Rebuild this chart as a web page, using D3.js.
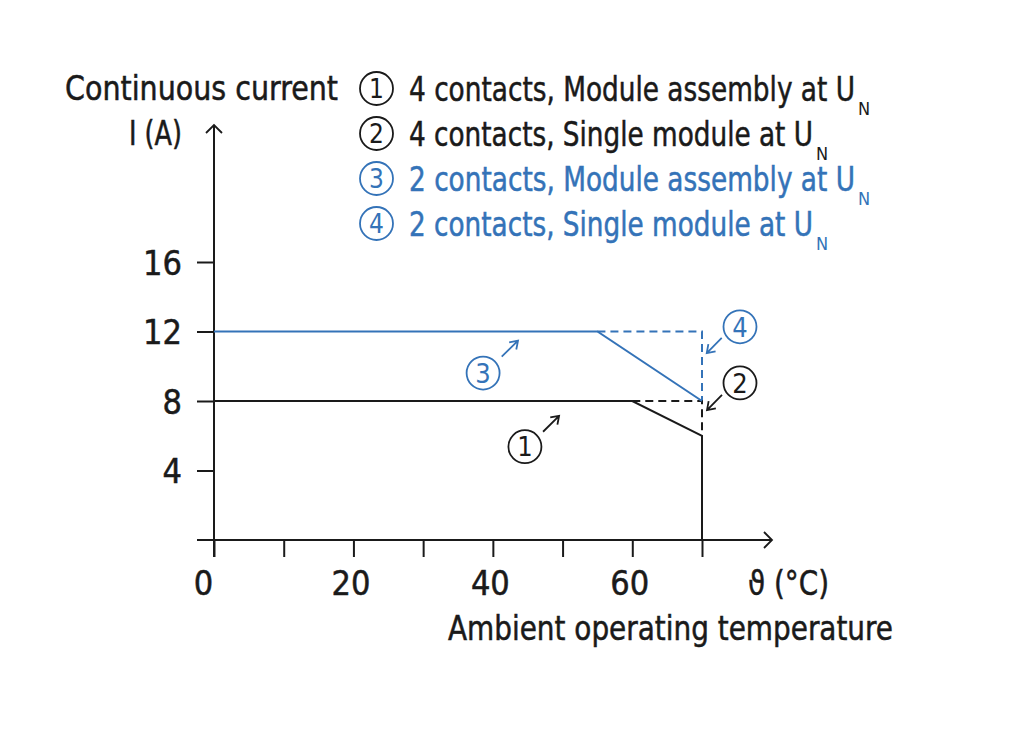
<!DOCTYPE html>
<html>
<head>
<meta charset="utf-8">
<script src="https://cdn.jsdelivr.net/npm/d3@7"></script>
<style>
  body { margin: 0; background: #fff; }
  text { font-family: "Liberation Sans Narrow", "DejaVu Sans Condensed", sans-serif; }
</style>
</head>
<body>
<div id="chart"></div>
<script>
// Data
const xTicks = [0, 10, 20, 30, 40, 50, 60, 70]
const xTickLabels = [0, 20, 40, 60]
const yTicks = [4, 8, 12, 16]

// curves: [temperature, current]
const curve1 = [[0, 8], [60, 8], [70, 6], [70, 0]]       // 4 contacts, module assembly
const curve2 = [[60, 8], [70, 8], [70, 6]]               // 4 contacts, single module (dashed)
const curve3 = [[0, 12], [55, 12], [70, 8]]              // 2 contacts, module assembly
const curve4 = [[55, 12], [70, 12], [70, 8]]             // 2 contacts, single module (dashed)

const legendNums = ["1", "2", "3", "4"]
const legendTexts = [
  "4 contacts, Module assembly at U",
  "4 contacts, Single module at U",
  "2 contacts, Module assembly at U",
  "2 contacts, Single module at U"
]

// callouts: number, circle centre, arrow start, arrow end (data units)
const callouts = [
  { n: "1", c: [44.6, 5.37], a: [47.2, 6.23], b: [49.5, 7.15] },
  { n: "2", c: [75.45, 9.04], a: [72.87, 8.35], b: [70.72, 7.48] },
  { n: "3", c: [38.6, 9.61], a: [41.27, 10.55], b: [43.61, 11.47] },
  { n: "4", c: [75.45, 12.27], a: [72.83, 11.63], b: [70.68, 10.76] }
]

const black = "#1a1a1a"
const blue = "#3473b8"
const colors = [black, black, blue, blue]

// Dimensions
const dimensions = {
  width: 1024,
  height: 729,
  left: 214,
  right: 702,
  top: 262,
  bottom: 540
}
// rendered widths of the legend lines (font is condensed in the original)
const legendTextLen = [446, 404, 446, 404]

const svg = d3.select("#chart")
  .append("svg")
  .attr("width", dimensions.width)
  .attr("height", dimensions.height)

// Scales
const xScale = d3.scaleLinear()
  .domain([0, 70])
  .range([dimensions.left, dimensions.right])

const yScale = d3.scaleLinear()
  .domain([0, 16])
  .range([dimensions.bottom, dimensions.top])

// Axes
const xAxis = d3.axisBottom(xScale)
  .tickValues(xTicks)
  .tickSize(17)
  .tickFormat(d => xTickLabels.includes(d) ? d : "")

const xAxisGroup = svg.append("g")
  .attr("transform", `translate(0, ${dimensions.bottom})`)
  .call(xAxis)
xAxisGroup.select(".domain").remove()
xAxisGroup.selectAll(".tick line").attr("stroke", black).attr("stroke-width", 2)
xAxisGroup.selectAll(".tick text")
  .attr("font-size", 34)
  .attr("fill", black)
  .attr("y", 55)
  .attr("dy", 0)
  .attr("dx", d => d === 0 ? -11 : -3)

const yAxis = d3.axisLeft(yScale)
  .tickValues(yTicks)
  .tickSize(17)

const yAxisGroup = svg.append("g")
  .attr("transform", `translate(${dimensions.left}, 0)`)
  .call(yAxis)
yAxisGroup.select(".domain").remove()
yAxisGroup.selectAll(".tick line").attr("stroke", black).attr("stroke-width", 2)
yAxisGroup.selectAll(".tick text")
  .attr("font-size", 34)
  .attr("fill", black)
  .attr("x", -32)
  .attr("dy", "0.36em")

svg.selectAll("g[font-family]").attr("font-family", null)

// axis lines with open arrowheads
const axisPath = d3.path()
axisPath.moveTo(197, dimensions.bottom)
axisPath.lineTo(772, dimensions.bottom)
axisPath.moveTo(dimensions.left, 557)
axisPath.lineTo(dimensions.left, 125)
svg.append("path")
  .attr("d", axisPath.toString())
  .attr("stroke", black)
  .attr("stroke-width", 2)
  .attr("fill", "none")

svg.append("path")
  .attr("d", "M764,532 L772,540 L764,548 M206,133 L214,125 L222,133")
  .attr("stroke", black)
  .attr("stroke-width", 1.8)
  .attr("fill", "none")

// Lines
const line = d3.line()
  .x(d => xScale(d[0]))
  .y(d => yScale(d[1]))

const curves = [
  { data: curve4, color: blue, dash: "8,5" },
  { data: curve2, color: black, dash: "8,5" },
  { data: curve3, color: blue, dash: null },
  { data: curve1, color: black, dash: null }
]

svg.selectAll("path.curve")
  .data(curves)
  .join("path")
  .attr("class", "curve")
  .attr("d", d => line(d.data))
  .attr("fill", "none")
  .attr("stroke", d => d.color)
  .attr("stroke-width", 2)
  .attr("stroke-dasharray", d => d.dash)

// Callouts
const calloutGroup = svg.selectAll("g.callout")
  .data(callouts)
  .join("g")
  .attr("class", "callout")

calloutGroup.append("circle")
  .attr("cx", d => xScale(d.c[0]))
  .attr("cy", d => yScale(d.c[1]))
  .attr("r", 16.5)
  .attr("fill", "none")
  .attr("stroke", d => colors[+d.n - 1])
  .attr("stroke-width", 1.8)

calloutGroup.append("text")
  .attr("x", d => xScale(d.c[0]))
  .attr("y", d => yScale(d.c[1]))
  .attr("dy", "0.36em")
  .attr("text-anchor", "middle")
  .attr("font-size", 27)
  .attr("fill", d => colors[+d.n - 1])
  .text(d => d.n)

calloutGroup.append("path")
  .attr("d", d => {
    const x1 = xScale(d.a[0]), y1 = yScale(d.a[1])
    const x2 = xScale(d.b[0]), y2 = yScale(d.b[1])
    const ang = Math.atan2(y2 - y1, x2 - x1)
    const h = 9
    const p = d3.path()
    p.moveTo(x1, y1)
    p.lineTo(x2, y2)
    p.moveTo(x2 - h * Math.cos(ang - 0.6), y2 - h * Math.sin(ang - 0.6))
    p.lineTo(x2, y2)
    p.lineTo(x2 - h * Math.cos(ang + 0.6), y2 - h * Math.sin(ang + 0.6))
    return p.toString()
  })
  .attr("fill", "none")
  .attr("stroke", d => colors[+d.n - 1])
  .attr("stroke-width", 1.8)

// Axis titles
const addLabel = (x, y, len, txt) => svg.append("text")
  .attr("x", x).attr("y", y)
  .attr("font-size", 34)
  .attr("fill", black)
  .attr("stroke", black)
  .attr("stroke-width", 0.5)
  .attr("textLength", len)
  .attr("lengthAdjust", "spacingAndGlyphs")
  .text(txt)

addLabel(65, 100, 273, "Continuous current")
addLabel(129, 145, 53, "I (A)")
addLabel(748, 595, 81, "ϑ (°C)")
addLabel(448, 640, 445, "Ambient operating temperature")

svg.selectAll(".tick text")
  .attr("stroke", black)
  .attr("stroke-width", 0.5)

// Legend
const legend = svg.selectAll("g.legend")
  .data(legendTexts)
  .join("g")
  .attr("class", "legend")
  .attr("transform", (d, i) => `translate(0, ${101 + i * 45})`)

legend.append("circle")
  .attr("cx", 376.5)
  .attr("cy", -12.5)
  .attr("r", 16.5)
  .attr("fill", "none")
  .attr("stroke", (d, i) => colors[i])
  .attr("stroke-width", 1.8)

legend.append("text")
  .attr("x", 376.5)
  .attr("y", -12.5)
  .attr("dy", "0.36em")
  .attr("text-anchor", "middle")
  .attr("font-size", 26)
  .attr("fill", (d, i) => colors[i])
  .text((d, i) => legendNums[i])

legend.append("text")
  .attr("x", 409)
  .attr("y", 0)
  .attr("font-size", 34)
  .attr("fill", (d, i) => colors[i])
  .attr("stroke", (d, i) => colors[i])
  .attr("stroke-width", 0.5)
  .attr("textLength", (d, i) => legendTextLen[i])
  .attr("lengthAdjust", "spacingAndGlyphs")
  .text(d => d)

legend.append("text")
  .attr("x", (d, i) => 409 + legendTextLen[i] + 3)
  .attr("y", 14)
  .attr("font-size", 18)
  .attr("fill", (d, i) => colors[i])
  .text("N")
</script>
</body>
</html>
